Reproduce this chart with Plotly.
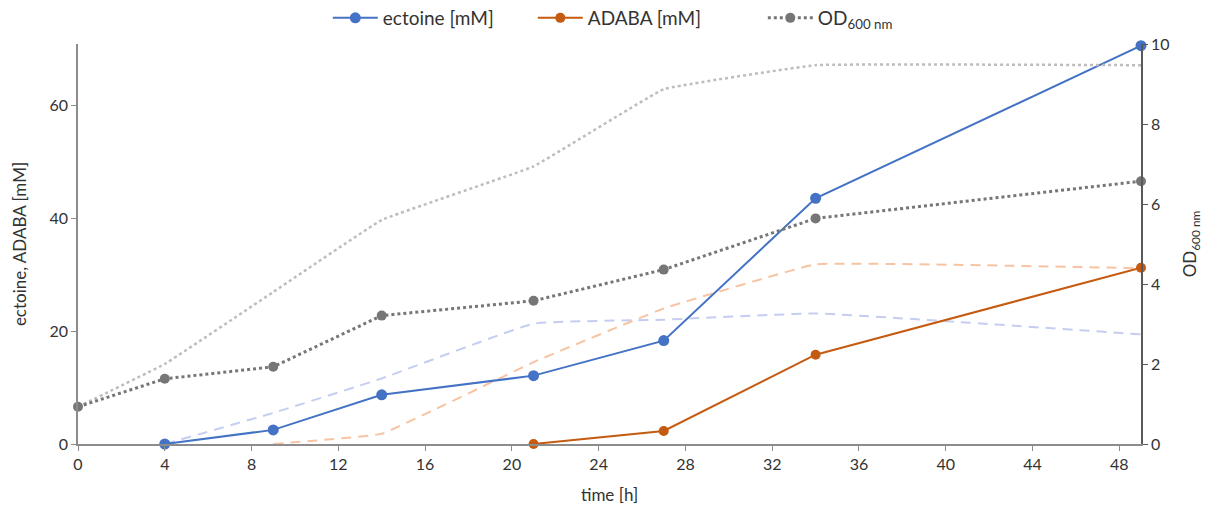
import plotly.graph_objects as go

# sampling times [h]
time_h = [0, 4, 9, 14, 21, 27, 34, 49]

# measured series
ectoine_t = [4, 9, 14, 21, 27, 34, 49]
ectoine_mM = [0, 2.5, 8.7, 12.1, 18.3, 43.5, 70.5]

adaba_t = [21, 27, 34, 49]
adaba_mM = [0, 2.3, 15.8, 31.2]

od600 = [0.93, 1.63, 1.93, 3.21, 3.58, 4.36, 5.64, 6.57]

# reference cultivation (faded curves)
ref_ectoine_t = [4, 9, 14, 21, 27, 34, 49]
ref_ectoine_mM = [0, 5.5, 11.6, 21.3, 22.0, 23.1, 19.4]

ref_adaba_t = [9, 14, 21, 27, 34, 49]
ref_adaba_mM = [0, 1.8, 14.5, 24.0, 31.8, 31.1]

ref_od600 = [0.93, 2.0, 3.8, 5.6, 6.94, 8.87, 9.47, 9.47]

BLUE = "#4472C4"
ORANGE = "#C55A11"
GREY = "#767676"
FONT = "Lato, 'Open Sans', sans-serif"
TEXT = "#333333"

fig = go.Figure()

# faded reference curves (behind)
fig.add_trace(go.Scatter(
    x=time_h, y=ref_od600, yaxis="y2", mode="lines", showlegend=False,
    line=dict(color="#BDBDBD", width=2.5, dash="dot", shape="spline", smoothing=0.2),
    hoverinfo="skip"))
fig.add_trace(go.Scatter(
    x=ref_ectoine_t, y=ref_ectoine_mM, mode="lines", showlegend=False,
    line=dict(color="#C5CDF0", width=2, dash="10px,7px", shape="spline", smoothing=0.3),
    hoverinfo="skip"))
fig.add_trace(go.Scatter(
    x=ref_adaba_t, y=ref_adaba_mM, mode="lines", showlegend=False,
    line=dict(color="#F6C4A2", width=2, dash="10px,7px", shape="spline", smoothing=0.2),
    hoverinfo="skip"))

# measured series
fig.add_trace(go.Scatter(
    x=ectoine_t, y=ectoine_mM, mode="lines+markers", name="ectoine [mM]",
    cliponaxis=False, legendwidth=145,
    line=dict(color=BLUE, width=2), marker=dict(color=BLUE, size=11)))
fig.add_trace(go.Scatter(
    x=adaba_t, y=adaba_mM, mode="lines+markers", name="ADABA [mM]",
    cliponaxis=False, legendwidth=170,
    line=dict(color=ORANGE, width=2), marker=dict(color=ORANGE, size=10)))
fig.add_trace(go.Scatter(
    x=time_h, y=od600, yaxis="y2", mode="lines+markers", name="OD<sub>600 nm</sub>",
    cliponaxis=False, legendwidth=160,
    line=dict(color=GREY, width=3, dash="dot"), marker=dict(color=GREY, size=10)))

fig.update_layout(
    width=1209, height=505,
    margin=dict(l=78, r=68, t=44, b=61, autoexpand=False),
    plot_bgcolor="white", paper_bgcolor="white",
    font=dict(family=FONT, size=16, color=TEXT),
    legend=dict(orientation="h", x=0.235, xanchor="left", y=1.065, yanchor="middle",
                font=dict(size=19), itemwidth=45,
                bgcolor="rgba(0,0,0,0)"),
    xaxis=dict(
        range=[0, 49], tick0=0, dtick=4, showgrid=False, zeroline=False,
        showline=True, linecolor="#8C8C8C", linewidth=1.5,
        ticks="outside", ticklen=5, tickcolor="#8C8C8C", automargin=False,
        title=dict(text="time [h]", font=dict(size=17), standoff=17)),
    yaxis=dict(
        range=[0, 70.8], tick0=0, dtick=20, showgrid=False, zeroline=False,
        showline=True, linecolor="#8C8C8C", linewidth=1.5,
        ticks="outside", ticklen=5, tickcolor="#8C8C8C", automargin=False,
        title=dict(text="ectoine, ADABA [mM]", font=dict(size=17), standoff=19)),
    yaxis2=dict(
        range=[0, 10], tick0=0, dtick=2, overlaying="y", side="right",
        showgrid=False, zeroline=False,
        showline=True, linecolor="#595959", linewidth=1.5,
        ticks="outside", ticklen=5, tickcolor="#595959", automargin=False,
        title=dict(text="OD<sub>600 nm</sub>", font=dict(size=17), standoff=16)),
)

fig.write_html("out.html")
